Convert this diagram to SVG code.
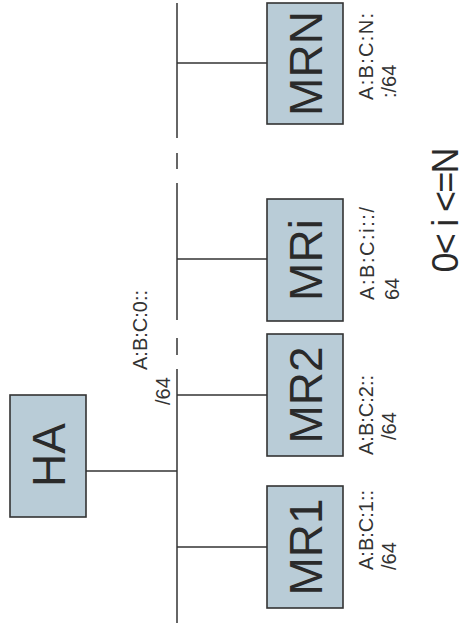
<svg xmlns="http://www.w3.org/2000/svg" width="466" height="630" viewBox="0 0 466 630">
<style>
.box{fill:#b9ccd7;stroke:#333;stroke-width:1.6}
.ln{stroke:#333;stroke-width:1.5;fill:none}
.big{font-family:"Liberation Sans",Arial,sans-serif;font-size:46px;fill:#2a2a2a;text-anchor:middle}
.sm{font-family:"Liberation Sans",Arial,sans-serif;font-size:20px;fill:#333}
.eq{font-family:"Liberation Sans",Arial,sans-serif;font-size:36px;fill:#2a2a2a;text-anchor:middle}
</style>
<rect width="466" height="630" fill="#fff"/>
<g id="connectors">
<line class="ln" x1="177" y1="3" x2="177" y2="138"/>
<line class="ln" x1="177" y1="153" x2="177" y2="169"/>
<line class="ln" x1="177" y1="183" x2="177" y2="320"/>
<line class="ln" x1="177" y1="338" x2="177" y2="355"/>
<line class="ln" x1="177" y1="369" x2="177" y2="623"/>
<line class="ln" x1="177" y1="63" x2="267" y2="63"/>
<line class="ln" x1="177" y1="259" x2="267" y2="259"/>
<line class="ln" x1="177" y1="395" x2="267" y2="395"/>
<line class="ln" x1="177" y1="547" x2="267" y2="547"/>
<line class="ln" x1="86" y1="471" x2="177" y2="471"/>
</g>
<g id="HA">
<rect class="box" x="10" y="395" width="76" height="122"/>
<text class="big" transform="translate(64.5,455) rotate(-90)">HA</text>
</g>
<g id="HA-label">
<text class="sm" transform="translate(147,370) rotate(-90)">A:B:C:0::</text>
<text class="sm" transform="translate(170,405) rotate(-90)">/64</text>
</g>
<g id="MR1">
<rect class="box" x="267" y="486" width="76" height="122"/>
<text class="big" transform="translate(322,547) rotate(-90)">MR1</text>
<text class="sm" transform="translate(373,570) rotate(-90)">A:B:C:1::</text>
<text class="sm" transform="translate(396,570) rotate(-90)">/64</text>
</g>
<g id="MR2">
<rect class="box" x="267" y="334" width="76" height="122"/>
<text class="big" transform="translate(322,395) rotate(-90)">MR2</text>
<text class="sm" transform="translate(373,455) rotate(-90)">A:B:C:2::</text>
<text class="sm" transform="translate(396,440) rotate(-90)">/64</text>
</g>
<g id="MRi">
<rect class="box" x="267" y="199" width="76" height="122"/>
<text class="big" transform="translate(322,260) rotate(-90)">MRi</text>
<text class="sm" transform="translate(374,300) rotate(-90)" textLength="93" lengthAdjust="spacing">A:B:C:i::/</text>
<text class="sm" transform="translate(399,300) rotate(-90)">64</text>
</g>
<g id="MRN">
<rect class="box" x="267" y="3" width="76" height="121"/>
<text class="big" transform="translate(322,63.5) rotate(-90)">MRN</text>
<text class="sm" transform="translate(373,100) rotate(-90)" textLength="87" lengthAdjust="spacing">A:B:C:N:</text>
<text class="sm" transform="translate(396,98) rotate(-90)">:/64</text>
</g>
<g id="range">
<text class="eq" transform="translate(458,210) rotate(-90)" textLength="125" lengthAdjust="spacing">0&lt; i &lt;=N</text>
</g>
</svg>
